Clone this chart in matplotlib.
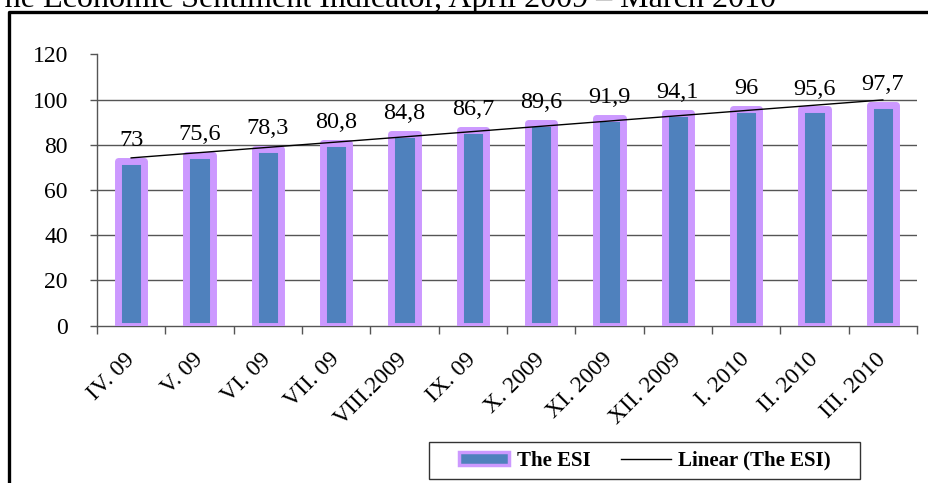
import numpy as np
import matplotlib.pyplot as plt
from matplotlib.lines import Line2D
from matplotlib.patches import Patch, Rectangle

plt.rcParams['font.family'] = ['Liberation Serif', 'DejaVu Serif']

# monthly ESI values
months = ["IV. 09", "V. 09", "VI. 09", "VII. 09", "VIII.2009", "IX. 09",
          "X. 2009", "XI. 2009", "XII. 2009", "I. 2010", "II. 2010", "III. 2010"]
esi = [73, 75.6, 78.3, 80.8, 84.8, 86.7, 89.6, 91.9, 94.1, 96, 95.6, 97.7]
yticks = [0, 20, 40, 60, 80, 100, 120]

blue = '#4F81BD'
lilac = '#CC99FF'
W, H = 929, 483

fig = plt.figure(figsize=(W / 100, H / 100), dpi=100)
ax = fig.add_axes([97 / W, 1 - 325.7 / H, 820 / W, 271.4 / H])

x = np.arange(len(esi))
bars = ax.bar(x, esi, width=0.385, color=blue, edgecolor=lilac,
              linewidth=5.0, zorder=3)
for b in bars:
    b.set_joinstyle('round')

# linear trend of the series
k, c = np.polyfit(x, esi, 1)
ax.plot([x[0], x[-1]], [c, c + k * x[-1]], color='black', lw=1.0, zorder=4)

for xi, v in zip(x, esi):
    ax.annotate(f"{v:g}".replace('.', ','), (xi, v), xytext=(0, 10.5),
                textcoords='offset points', ha='center', va='baseline',
                fontsize=17.5, zorder=5)

ax.set_xlim(-0.5, len(esi) - 0.5)
ax.set_ylim(0, 120)
ax.set_yticks(yticks)
ax.set_yticklabels([str(t) for t in yticks], fontsize=17)
ax.tick_params(axis='y', length=5, width=1, color='#555555', pad=16)
for t in yticks[1:-1]:
    ax.axhline(t, color='#555555', lw=1.0, zorder=1)

ax.set_xticks(x)
ax.set_xticklabels(months, rotation=45, ha='right', va='center',
                   rotation_mode='anchor', fontsize=17)
ax.tick_params(axis='x', which='major', length=0, pad=22)
ax.set_xticks(np.arange(-0.5, len(esi), 1), minor=True)
ax.tick_params(axis='x', which='minor', length=6, width=1, color='#555555')

for s in ['top', 'right']:
    ax.spines[s].set_visible(False)
for s in ['left', 'bottom']:
    ax.spines[s].set_color('#555555')
    ax.spines[s].set_linewidth(1.0)

# legend with a plain box drawn round it
handles = [Patch(facecolor=blue, edgecolor=lilac, linewidth=2.5),
           Line2D([0], [0], color='black', lw=1.0)]
leg = fig.legend(handles, ['The ESI', 'Linear (The ESI)'], ncol=2,
                 loc='center', bbox_to_anchor=(645 / W, 1 - 460.5 / H),
                 frameon=False, prop={'weight': 'bold', 'size': 15},
                 handlelength=2.4, handleheight=0.6, handletextpad=0.35,
                 columnspacing=1.45)
fig.add_artist(Rectangle((429 / W, 1 - 479 / H), 431 / W, 37 / H,
                         transform=fig.transFigure, fill=False,
                         edgecolor='#333333', lw=1.0))

# outer frame and caption
fig.add_artist(Line2D([9 / W, 9 / W, 1.01], [-0.01, 1 - 12 / H, 1 - 12 / H],
                      transform=fig.transFigure, color='black', lw=2.4))
fig.text(776 / W, 1 - 7 / H,
         "The Economic Sentiment Indicator, April 2009 \u2013 March 2010",
         ha='right', va='baseline', fontsize=23.1)

fig.savefig('out.png', dpi=100)
